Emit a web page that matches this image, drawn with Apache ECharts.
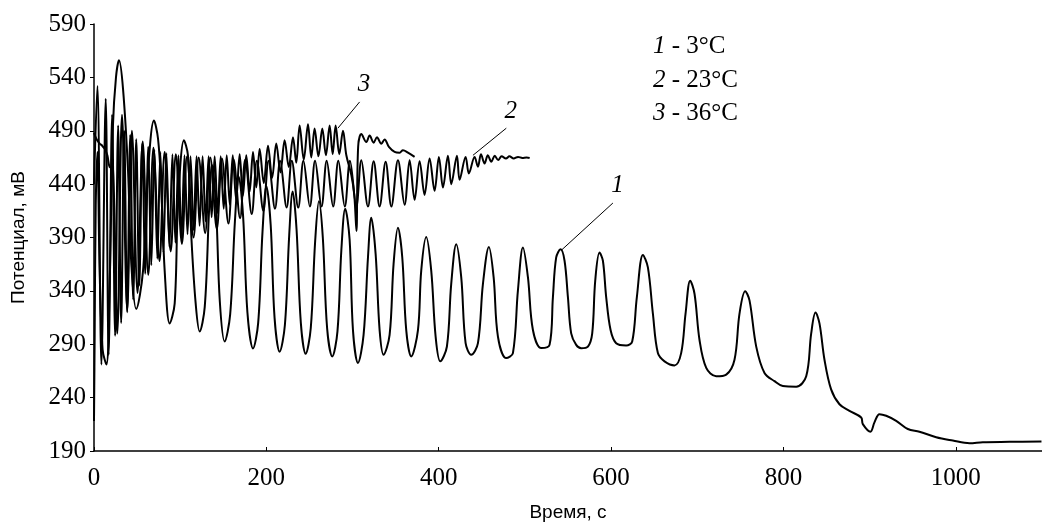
<!DOCTYPE html>
<html><head><meta charset="utf-8">
<script src="https://cdn.jsdelivr.net/npm/echarts@6/dist/echarts.min.js"></script>
<style>html,body{margin:0;padding:0;background:#fff}#c{width:1042px;height:527px}</style>
</head><body><div id="c"></div>
<script>
// ---- data ----
const seriesNames = ['3°C', '23°C', '36°C'];
const legendNums = ['1', '2', '3'];

const s1Time = [0,0.8,2,4,6.5,10,14.4,18,22,25.5,29,33.7,39.5,43.3,49,56.9,62.7,69.6,74.3,78.1,82,87.8,93.6,97.5,104.4,109,113,118,122.6,128.5,133.5,137,141.5,146,151.6,158,163.5,168,173,178,184.5,190.5,195.5,200,205,209.5,215.4,221.5,226.5,230.5,235,240,245.6,251.5,256.5,261,265.5,270.5,276.5,282.5,287,291.5,296.6,300.5,306.3,312.8,317.9,321.7,326.8,331.4,336,343,347.6,352.7,357.7,362.3,368.1,375.9,379.7,385.5,391.3,396.4,401.8,409.5,414.5,420.3,426.1,431.2,437.7,445.5,451.3,458.2,463.7,468.7,478.3,486.1,491.9,497.7,503.5,509.3,519,528.6,532.5,536.3,541.4,546,549.9,553.7,559.5,565.3,573.1,578.1,581.6,586.6,590.5,594.3,599.4,605.9,617.5,624.5,629.9,636.9,642.7,648.5,654.3,662,673.6,681.3,686.4,691.8,696.8,702.6,710.4,721.9,733.6,743.2,749,755.6,760.6,768.4,778,789.6,799.3,814.8,826.4,832.2,837.2,841.8,847.6,855.3,865,876.6,890.2,892.1,901,905.6,911.4,919.2,930.8,944.3,957.8,977.2,996.5,1015.9,1031.3,1062.3,1099.4];
const s1Mv = [218,300,420,470,360,285,271,340,495,540,556,529,452,365,323,359,452,499.5,482.5,436,359,309.5,328,421,481,467,390,328,302,325,415,458,420,330,292.5,318,405,447,410,320,286,310,395,438,402,315,283,308,392,433,398,310,281,305,385,424,390,305,278.6,302,378,417,388,303,272.5,298.7,371.3,408.4,374.4,303.3,280.2,298.7,365.1,399.1,371.3,303.3,278.6,303.3,359,390.5,359,297.2,274,287.9,346.6,383.7,352.8,291,280.2,291,346.6,381.2,352.8,297.2,277.1,281.7,340.4,380.6,352.8,303.3,286.4,289.4,334.2,371.3,379,368.2,334.2,300.2,289.4,286.3,287.8,300.2,349.6,375.9,368.2,334.2,303.3,290.9,288.8,292.5,334.2,373.7,362,318.7,281.7,274,270.2,281.7,318.7,349.6,337.3,294,267.8,260,261.6,275.5,318.7,339.7,331.1,287.8,263.1,255.4,250.8,250.2,260,300.2,319.7,309.5,275.5,247.7,233.8,227.6,221.4,215.2,208.1,216.8,224.5,223,218.3,210.6,208.1,202.9,199.8,197.3,198.3,198.6,198.9];

const s2Time = [0,3,6.6,9.5,12.4,15.5,18.2,22,27,32.5,38.5,44,50.5,56.5,63,69,76,82,89,95,102,108,115.5,121.5,129,135,142.5,148.5,156,162,169.5,175.5,183,189,196.5,202.5,210,216,223.5,229.5,237,243,250.5,256.5,264,270,277.5,283.5,291,297,304.4,310.2,317.9,324.5,331.4,338.4,345,352.7,360.4,366.2,372,377.8,383.6,389.4,395.2,400.2,404.9,410.7,414.6,421.1,424.2,431.2,435,441.6,445.5,449,453.2,457,461,465,469,473,478,482,487,492,497,502,505.5];
const s2Mv = [488,482,478,476,473,467,456,455,300,505,322,490,338,480,355,474,368,470,377,468,384,466,390,465,394,465,398,464,403,463,408,463,412,462,415,462,417,462,418,462,418,462,419,462,419,462,419,462,419,462,419,462.4,419,461.5,419,461,419,462.4,420.7,462.4,425.3,461.5,430,464,433.7,465.5,436.8,466.5,440,466.5,444,465.5,450,465.5,456.3,468,459.3,467,461,466.5,462.5,466,464,466,464,465.5,464.5,465,464.5];

const s3Time = [0,3.9,8.6,13.6,17,21,24.5,28,31.5,35,38.5,42,45.5,49,52.5,56,59.5,63,66.5,70,73.5,77,80.5,84,87.5,91,94.5,98,101.5,105,108.5,112,115.5,119,122.5,126,129.5,133,136.5,140,143.5,147,150.5,154,157.5,161,165,169,172.8,176.7,180.6,184.5,188.3,192.2,197,201.9,206.7,211.5,216.3,221.2,226,230.9,234.7,238.6,243.4,248.3,252.1,256,260.4,264.9,269.1,273.4,276.9,280.4,284.6,288.9,292.8,298.6,302,304.5,306.5,310.2,316,319.8,324.5,328.3,333.4,337.2,342.2,348.8,354.6,358.5,364.3,372];
const s3Mv = [440,532,271,520,280,505,298,495,310,490,320,486,332,482,345,478,356,475,364,472,370,470,376,469,381,468,385,467,389,467,393,466,397,466,401,466,405,466,409,466,413,466,417,467,421,467,425,468,429,467,433,470,437,473,441,476,446,478,451,481,456,484,460,495,463,496,465,492,466,492,467,495,468,495,468,490,467,448.5,430,396,475,487,479.4,485.6,478.8,484,477.9,481.9,474.8,470.2,469.5,471.7,469.5,465.5];

// leader-line annotations (data coordinates)
const noteFrom = [[542.2,378],[439.7,467],[283,492.4]];
const noteTo   = [[602.1,422.3],[478.4,492.4],[308.2,517]];

// ---- chart ----
const serif = 'Liberation Serif';
const sans = 'Liberation Sans';
const pairs = (t, v) => t.map((x, i) => [x, v[i]]);
const seriesData = [pairs(s1Time, s1Mv), pairs(s2Time, s2Mv), pairs(s3Time, s3Mv)];

const chart = echarts.init(document.getElementById('c'));
chart.setOption({
  animation: false,
  backgroundColor: '#fff',
  grid: { left: 94, right: 0, top: 24, bottom: 71, containLabel: false },
  xAxis: {
    type: 'value', min: 0, max: 1100, interval: 200,
    name: 'Время, с', nameLocation: 'middle', nameGap: 52,
    nameTextStyle: { fontFamily: sans, fontSize: 19, color: '#000' },
    axisLine: { show: true, lineStyle: { color: '#000', width: 1.5 } },
    axisTick: { show: true, inside: true, length: 4, lineStyle: { color: '#000' } },
    axisLabel: { fontFamily: serif, fontSize: 25, color: '#000', margin: 15, showMaxLabel: false,
                 formatter: v => String(v) },
    splitLine: { show: false }
  },
  yAxis: {
    type: 'value', min: 190, max: 590, interval: 50,
    name: 'Потенциал, мВ', nameLocation: 'middle', nameGap: 66,
    nameTextStyle: { fontFamily: sans, fontSize: 19, color: '#000' },
    axisLine: { show: true, lineStyle: { color: '#000', width: 1.5 } },
    axisTick: { show: true, inside: false, length: 4, lineStyle: { color: '#000' } },
    axisLabel: { fontFamily: serif, fontSize: 25, color: '#000', margin: 8, formatter: v => String(v) },
    splitLine: { show: false }
  },
  series: seriesData.map((d, i) => ({
    name: seriesNames[i],
    type: 'line',
    data: d,
    showSymbol: false,
    smooth: 0.35,
    lineStyle: { color: '#000', width: 2 },
    itemStyle: { color: '#000' },
    emphasis: { disabled: true },
    markLine: {
      silent: true,
      symbol: ['none', 'none'],
      lineStyle: { color: '#000', width: 1, type: 'solid' },
      label: { show: true, position: 'end', formatter: legendNums[i], fontFamily: serif, fontStyle: 'italic',
               fontSize: 25, color: '#000', distance: 2, offset: [3, -16] },
      emphasis: { disabled: true },
      data: [[{ coord: noteFrom[i] }, { coord: noteTo[i] }]]
    }
  })),
  graphic: legendNums.map((n, i) => ({
    type: 'text',
    x: 653,
    y: [46, 80, 113][i],
    style: {
      text: '{i|' + n + '}{n| - ' + seriesNames[i] + '}',
      align: 'left', verticalAlign: 'middle',
      rich: {
        i: { fontFamily: serif, fontStyle: 'italic', fontSize: 25, fill: '#000' },
        n: { fontFamily: serif, fontSize: 25, fill: '#000' }
      }
    }
  }))
});
</script>
</body></html>
